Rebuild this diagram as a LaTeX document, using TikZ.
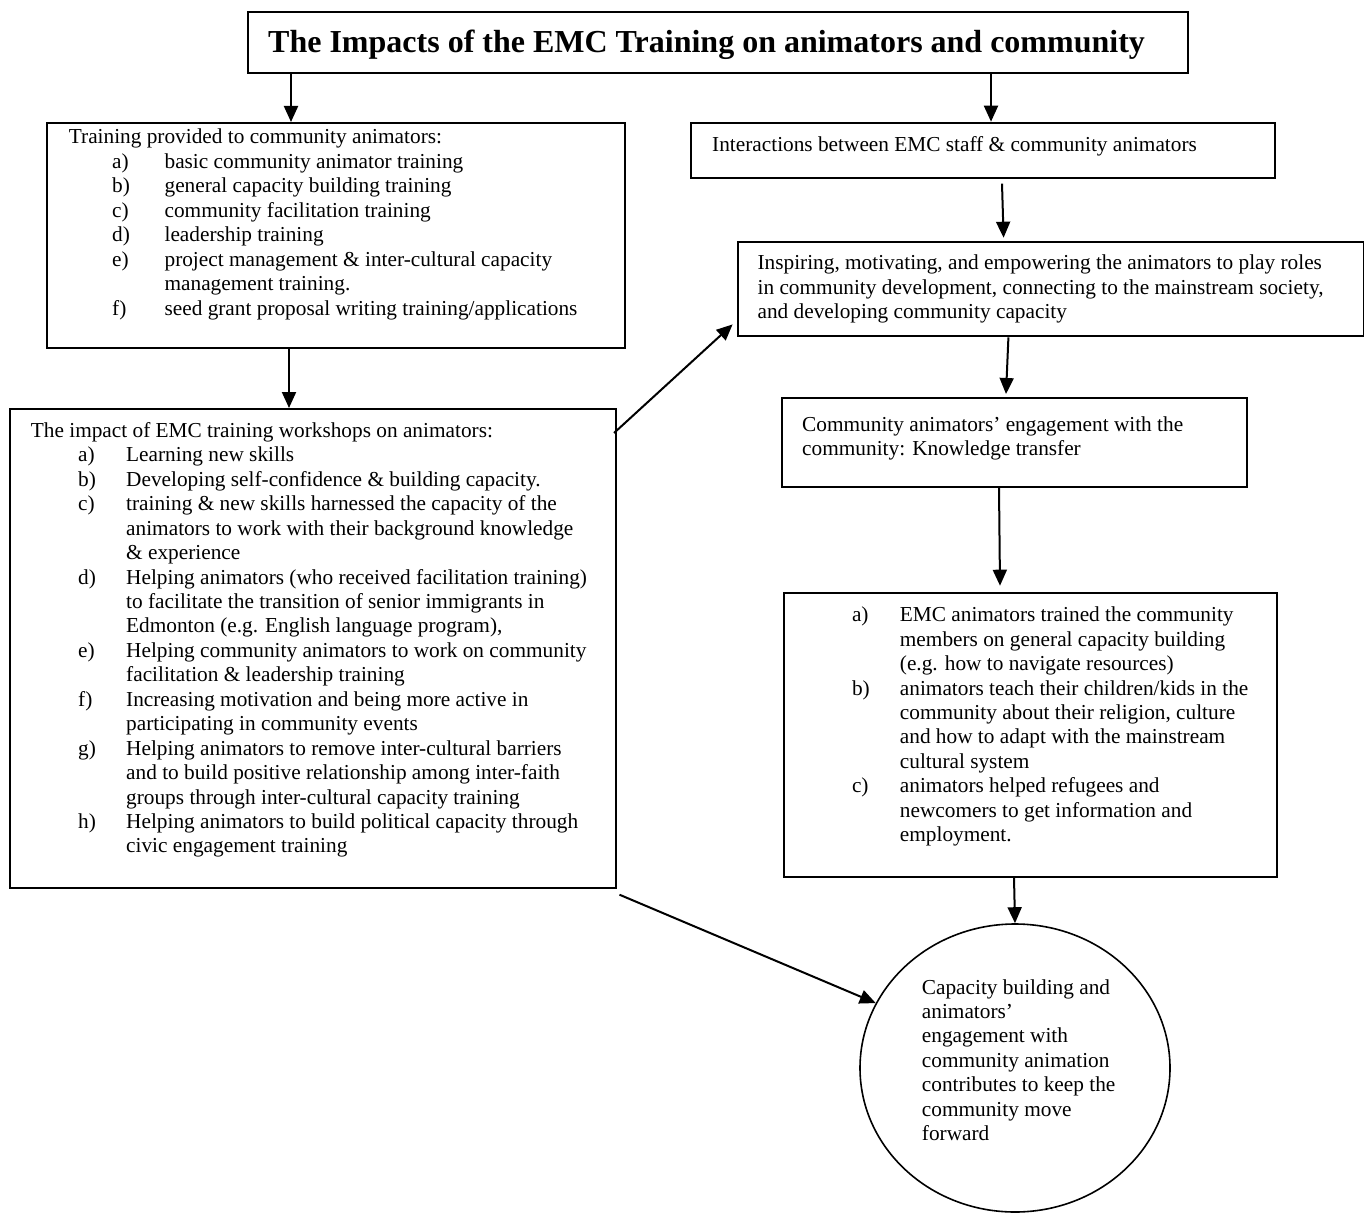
\documentclass[tikz,border=0pt]{standalone}
\usepackage{fontspec}
\setmainfont{Liberation Serif}
\usepackage{array}
\usetikzlibrary{arrows.meta,shapes.geometric}
\tikzset{
  frame/.style={draw, line width=2pt, inner sep=0pt, anchor=north west},
  body/.style={inner sep=0pt, anchor=base west, font=\fontsize{21.3}{24.45}\selectfont},
  conn/.style={line width=2pt, -{Triangle[length=16pt,width=14pt]}},
}
\begin{document}
\begin{tikzpicture}[x=1pt,y=-1pt]
\useasboundingbox (0,0) rectangle (1364,1214);

% ---------- boxes ----------
\node[frame, minimum width=940pt, minimum height=61pt] (title) at (247,11) {};
\node[inner sep=0pt, anchor=base west, font=\fontsize{32}{36}\selectfont\bfseries] (titletext) at (268,53)
  {The Impacts of the EMC Training on animators and community};

\node[frame, minimum width=578pt, minimum height=225pt] (train) at (46,122) {};
\node[body] (traintext) at (68.7,144) {\begin{tabular}[t]{@{}w{l}{43.3pt}@{}w{l}{52.4pt}@{}l@{}}
\multicolumn{3}{@{}l@{}}{Training provided to community animators:}\\
& a) & basic community animator training\\
& b) & general capacity building training\\
& c) & community facilitation training\\
& d) & leadership training\\
& e) & project management \& inter-cultural capacity\\
&    & management training.\\
& f) & seed grant proposal writing training/applications
\end{tabular}};

\node[frame, minimum width=606pt, minimum height=478.7pt] (impact) at (9,408) {};
\node[body] (impacttext) at (30.7,437.3) {\begin{tabular}[t]{@{}w{l}{47.3pt}@{}w{l}{48pt}@{}l@{}}
\multicolumn{3}{@{}l@{}}{The impact of EMC training workshops on animators:}\\
& a) & Learning new skills\\
& b) & Developing self-confidence \& building capacity.\\
& c) & training \& new skills harnessed the capacity of the\\
&    & animators to work with their background knowledge\\
&    & \& experience\\
& d) & Helping animators (who received facilitation training)\\
&    & to facilitate the transition of senior immigrants in\\
&    & Edmonton (e.g. English language program),\\
& e) & Helping community animators to work on community\\
&    & facilitation \& leadership training\\
& f) & Increasing motivation and being more active in\\
&    & participating in community events\\
& g) & Helping animators to remove inter-cultural barriers\\
&    & and to build positive relationship among inter-faith\\
&    & groups through inter-cultural capacity training\\
& h) & Helping animators to build political capacity through\\
&    & civic engagement training
\end{tabular}};

\node[frame, minimum width=584.3pt, minimum height=55pt] (inter) at (690,121.7) {};
\node[body] (intertext) at (712,151.7) {Interactions between EMC staff \& community animators};

\node[frame, minimum width=626pt, minimum height=94.7pt] (insp) at (736.6,240.7) {};
\node[body] (insptext) at (757.4,270) {\begin{tabular}[t]{@{}l@{}}
Inspiring, motivating, and empowering the animators to play roles\\
in community development, connecting to the mainstream society,\\
and developing community capacity
\end{tabular}};

\node[frame, minimum width=465pt, minimum height=89pt] (comm) at (781,397) {};
\node[body] (commtext) at (802,431) {\begin{tabular}[t]{@{}l@{}}
Community animators’ engagement with the\\
community: Knowledge transfer
\end{tabular}};

\node[frame, minimum width=493pt, minimum height=284pt] (list) at (783,591.7) {};
\node[body] (listtext) at (851.8,621.7) {\begin{tabular}[t]{@{}w{l}{47.9pt}@{}l@{}}
a) & EMC animators trained the community\\
   & members on general capacity building\\
   & (e.g. how to navigate resources)\\
b) & animators teach their children/kids in the\\
   & community about their religion, culture\\
   & and how to adapt with the mainstream\\
   & cultural system\\
c) & animators helped refugees and\\
   & newcomers to get information and\\
   & employment.
\end{tabular}};

\node[draw, ellipse, line width=1.6pt, inner sep=0pt, minimum width=310pt, minimum height=288pt] (circ) at (1015,1068) {};
\node[body] (circtext) at (921.7,994) {\begin{tabular}[t]{@{}l@{}}
Capacity building and\\
animators’\\
engagement with\\
community animation\\
contributes to keep the\\
community move\\
forward
\end{tabular}};

% ---------- connectors ----------
\draw[conn] ([xshift=44pt]title.south west) -- ([xshift=245pt]train.north west);
\draw[conn] ([xshift=744pt]title.south west) -- ([xshift=301pt]inter.north west);
\draw[conn] ([xshift=312pt,yshift=-5pt]inter.south west) -- ([xshift=267pt,yshift=3pt]insp.north west);
\draw[conn] ([xshift=271.8pt]insp.south west) -- ([xshift=225pt,yshift=3pt]comm.north west);
\draw[conn] ([xshift=243pt]train.south west) -- ([xshift=280pt]impact.north west);
\draw[conn] ([xshift=-3pt,yshift=-25pt]impact.north east) -- ([xshift=-4pt,yshift=13pt]insp.south west);
\draw[conn] ([xshift=218pt]comm.south west) -- ([xshift=217pt,yshift=6pt]list.north west);
\draw[conn] ([xshift=231pt]list.south west) -- (circ.north);
\draw[conn] ([xshift=2.5pt,yshift=-6pt]impact.south east) -- (circ.155.5);
\end{tikzpicture}
\end{document}
